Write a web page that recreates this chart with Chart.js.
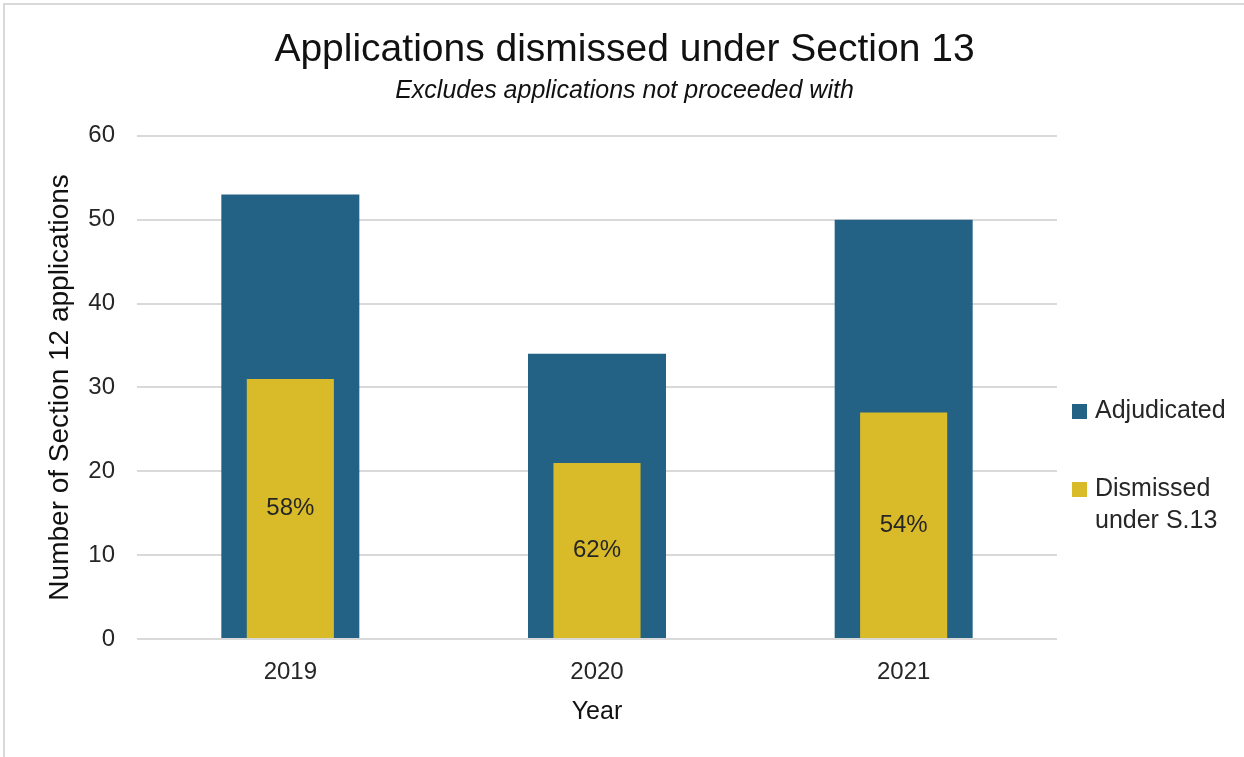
<!DOCTYPE html>
<html>
<head>
<meta charset="utf-8">
<script src="https://cdn.jsdelivr.net/npm/chart.js@4"></script>
<style>
  html, body { margin: 0; padding: 0; background: #fff; }
  #wrap {
    position: absolute; left: 3px; top: 3px;
    width: 1241px; height: 754px;
    border-top: 2px solid #d9d9d9; border-left: 2px solid #d9d9d9;
    box-sizing: border-box;
  }
  #chart { display: block; }
</style>
</head>
<body>
<div id="wrap"><canvas id="chart" width="1239" height="752"></canvas></div>
<script>
// データ
const years = ['2019', '2020', '2021'];
const adjudicated = [53, 34, 50];
const dismissed = [31, 21, 27];
const pctLabels = ['58%', '62%', '54%'];
const yTicks = [0, 10, 20, 30, 40, 50, 60];

const FONT = '"Liberation Sans", Arial, sans-serif';
const BLUE = '#236285';
const GOLD = '#d9bb29';
const TEXT = '#262626';

// 黄色いバーの中央に割合を描く
const pctPlugin = {
  id: 'pctLabels',
  afterDatasetsDraw(chart) {
    const ctx = chart.ctx;
    const meta = chart.getDatasetMeta(1);
    ctx.save();
    ctx.font = '24px ' + FONT;
    ctx.fillStyle = TEXT;
    ctx.textAlign = 'center';
    ctx.textBaseline = 'middle';
    meta.data.forEach((bar, i) => {
      const y = (bar.y + bar.base) / 2;
      ctx.fillText(pctLabels[i], bar.x, y);
    });
    ctx.restore();
  }
};

// 右側の凡例（2行ラベルがあるので自前で描画）
const legendPlugin = {
  id: 'sideLegend',
  afterDraw(chart) {
    const ctx = chart.ctx;
    const items = [
      { color: BLUE, lines: ['Adjudicated'], y: 406 },
      { color: GOLD, lines: ['Dismissed', 'under S.13'], y: 484 },
    ];
    ctx.save();
    ctx.font = '25px ' + FONT;
    ctx.textBaseline = 'middle';
    items.forEach(it => {
      ctx.fillStyle = it.color;
      ctx.fillRect(1067, it.y - 7, 15, 15);
      ctx.fillStyle = TEXT;
      it.lines.forEach((t, k) => ctx.fillText(t, 1090, it.y + k * 32));
    });
    ctx.restore();
  }
};

new Chart(document.getElementById('chart'), {
  type: 'bar',
  data: {
    labels: years,
    datasets: [{
      label: 'Adjudicated',
      data: adjudicated,
      backgroundColor: BLUE,
      grouped: false,
      barPercentage: 0.45,
      categoryPercentage: 1,
      order: 2,
    }, {
      label: 'Dismissed under S.13',
      data: dismissed,
      backgroundColor: GOLD,
      grouped: false,
      barPercentage: 0.284,
      categoryPercentage: 1,
      order: 1,
    }],
  },
  options: {
    responsive: false,
    animation: false,
    layout: { padding: { left: 0, right: 0, top: 0, bottom: 30 } },
    plugins: {
      legend: { display: false },
      tooltip: { enabled: false },
      title: {
        display: true,
        text: 'Applications dismissed under Section 13',
        color: '#111',
        font: { family: FONT, size: 39, weight: 'normal' },
        padding: { top: 22, bottom: 2 },
      },
      subtitle: {
        display: true,
        text: 'Excludes applications not proceeded with',
        color: '#111',
        font: { family: FONT, size: 25, style: 'italic' },
        padding: { top: 0, bottom: 30 },
      },
    },
    scales: {
      x: {
        afterFit(axis) { axis.height = 88; },
        grid: { display: false },
        border: { display: false },
        ticks: { color: TEXT, font: { family: FONT, size: 24 }, padding: 11 },
        title: {
          display: true, text: 'Year', color: '#111',
          font: { family: FONT, size: 25 }, padding: { top: 12, bottom: 0 },
        },
      },
      y: {
        min: 0, max: 60,
        afterBuildTicks(axis) { axis.ticks = yTicks.map(v => ({ value: v })); },
        afterFit(axis) { axis.width = 132; },
        grid: { color: '#d9d9d9', lineWidth: 2, drawTicks: false },
        border: { display: false },
        ticks: { color: TEXT, font: { family: FONT, size: 24 }, padding: 22 },
        title: {
          display: true, text: 'Number of Section 12 applications', color: '#111',
          font: { family: FONT, size: 28 }, padding: { top: 38, bottom: 0 },
        },
      },
      // 凡例の場所を空けるためのダミー軸
      side: {
        type: 'linear', position: 'right', min: 0, max: 1,
        afterFit(axis) { axis.width = 187; },
        grid: { display: false },
        border: { display: false },
        ticks: { display: false },
      },
    },
  },
  plugins: [pctPlugin, legendPlugin],
});
</script>
</body>
</html>
